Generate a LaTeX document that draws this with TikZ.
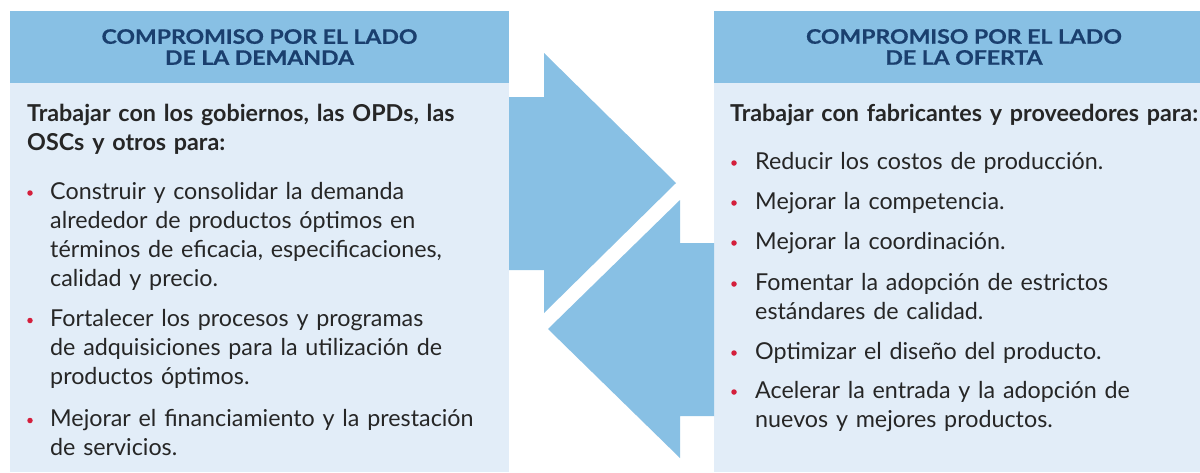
\documentclass[tikz,border=0pt]{standalone}
\usepackage{fontspec}
\setmainfont{Lato}
\newfontfamily\hdrfont{Lato}[FakeStretch=1.15,FakeBold=0.6]
\definecolor{hdrblue}{HTML}{88C0E4}
\definecolor{bodyblue}{HTML}{E2EDF8}
\definecolor{navy}{HTML}{1A3F6E}
\definecolor{bulred}{HTML}{D41F3C}
\definecolor{txt}{HTML}{262626}
\tikzset{
  hdrtext/.style={font=\hdrfont\fontsize{20}{21}\selectfont\bfseries, text=navy, align=center, inner sep=0pt},
  introtext/.style={font=\fontsize{23.3}{29}\selectfont\bfseries, text=txt, align=left, anchor=base west, inner sep=0pt, text width=#1},
  itemtext/.style={font=\fontsize{23.3}{29}\selectfont, text=txt, align=left, anchor=base west, inner sep=0pt, text width=#1},
  bul/.style={circle, fill=bulred, inner sep=0pt, minimum size=5.5pt},
  arrowshape/.style={fill=hdrblue, draw=none}
}
\begin{document}
\begin{tikzpicture}[x=1pt,y=-1pt]
\useasboundingbox (0,0) rectangle (1200,472);
\fill[white] (0,0) rectangle (1200,472);
% panels
\fill[bodyblue] (10,83) rectangle (509,472);
\fill[hdrblue] (10,11) rectangle (509,83);
\fill[bodyblue] (714,83) rectangle (1200,472);
\fill[hdrblue] (714,11) rectangle (1200,83);
% arrows
\fill[arrowshape] (509,97) -- (544,97) -- (544,53) -- (676,183) -- (544,313) -- (544,270) -- (509,270) -- cycle;
\fill[arrowshape] (714,243) -- (680,243) -- (680,200) -- (548,329) -- (680,458) -- (680,416) -- (714,416) -- cycle;
% headers
\node[hdrtext] (hL) at (259.5,47) {COMPROMISO POR EL LADO\\DE LA DEMANDA};
\node[hdrtext] (hR) at (964,47) {COMPROMISO POR EL LADO\\DE LA OFERTA};
% left content
\node[introtext=475pt] (iL) at (27,121.7) {Trabajar con los gobiernos, las OPDs, las\\OSCs y otros para:};
\node[bul] (bL1) at (30,193) {};
\node[itemtext=445pt] (tL1) at (50,199.3) {Construir y consolidar la demanda\\alrededor de productos óptimos en\\términos de eficacia, especificaciones,\\calidad y precio.};
\node[bul] (bL2) at (30,320.5) {};
\node[itemtext=445pt] (tL2) at (50,326.7) {Fortalecer los procesos y programas\\de adquisiciones para la utilización de\\productos óptimos.};
\node[bul] (bL3) at (30,420.5) {};
\node[itemtext=445pt] (tL3) at (50,426.7) {Mejorar el financiamiento y la prestación\\de servicios.};
% right content
\node[introtext=470pt] (iR) at (730,121.7) {Trabajar con fabricantes y proveedores para:};
\node[bul] (bR1) at (734,163) {};
\node[itemtext=440pt] (tR1) at (755,169) {Reducir los costos de producción.};
\node[bul] (bR2) at (734,203) {};
\node[itemtext=440pt] (tR2) at (755,209.3) {Mejorar la competencia.};
\node[bul] (bR3) at (734,243) {};
\node[itemtext=440pt] (tR3) at (755,249.3) {Mejorar la coordinación.};
\node[bul] (bR4) at (734,284) {};
\node[itemtext=440pt] (tR4) at (755,290) {Fomentar la adopción de estrictos\\estándares de calidad.};
\node[bul] (bR5) at (734,353) {};
\node[itemtext=440pt] (tR5) at (755,359.3) {Optimizar el diseño del producto.};
\node[bul] (bR6) at (734,392) {};
\node[itemtext=440pt] (tR6) at (755,398.3) {Acelerar la entrada y la adopción de\\nuevos y mejores productos.};
\end{tikzpicture}
\end{document}
